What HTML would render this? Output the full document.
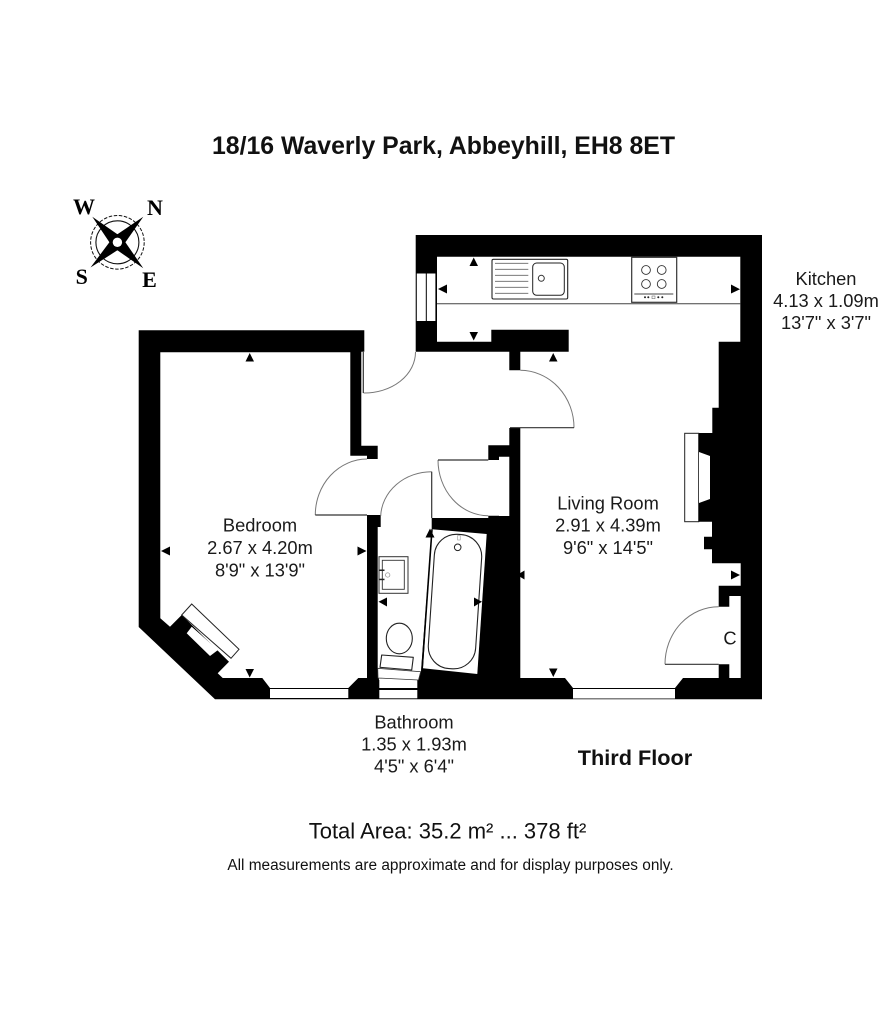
<!DOCTYPE html>
<html>
<head>
<meta charset="utf-8">
<style>
html,body{margin:0;padding:0;background:#fff;}
svg{display:block;}
text{font-family:"Liberation Sans",Arial,sans-serif;fill:#111;}
.l{font-size:18.3px;text-anchor:middle;fill:#1a1a1a;}
.c{font-family:"Liberation Serif",serif;font-weight:bold;font-size:22px;text-anchor:middle;fill:#000;}
</style>
</head>
<body>
<svg width="880" height="1024" viewBox="0 0 880 1024" xmlns="http://www.w3.org/2000/svg">
<rect width="880" height="1024" fill="#fff"/>

<!-- footprint -->
<polygon fill="#000" points="138.7,330.3 364.3,330.3 364.3,352 415.7,352 415.7,235 762,235 762,699.3 215,699.3 138.7,627"/>

<!-- bedroom -->
<polygon fill="#fff" points="160.3,352.3 350.3,352.3 350.3,455.7 367,455.7 367,678 358.3,678 348.3,688 270,688 262.3,678 222.7,678 217.7,673.3 229,661.7 181.7,615 170,626.7 160.3,618.3"/>
<!-- bedroom window -->
<rect x="270" y="689" width="78.3" height="9" fill="#fff"/>

<!-- kitchen / living / hall / bath -->
<polygon fill="#fff" points="437,256.7 740.3,256.7 740.3,341.7 718.7,341.7 718.7,407.7 712.3,407.7 712.3,433 698.7,433 698.7,521.7 712,521.7 712,536.7 704,536.7 704,549.3 712,549.3 712,563.3 740.7,563.3 740.7,585.7 718.7,585.7 718.7,606.7 729.3,606.7 729.3,596 740.7,596 740.7,678 729.3,678 729.3,664.3 718.7,664.3 718.7,678 683,678 675,688 573,688 565,678 520.3,678 520.3,428 509.3,428 509.3,445.3 488.3,445.3 488.3,460 499,460 499,456.7 509.3,456.7 509.3,516 499,516 499,515.7 488.3,515.7 488.3,518 431.7,518 431.7,529.3 421,671 417.3,680 379,680 377.7,668 377.7,527 380.7,527 380.7,515 367,515 367,459 377.7,459 377.7,445.7 361.3,445.7 361.3,351.7 509.3,351.7 509.3,370.3 520.3,370.3 520.3,351.7 568.7,351.7 568.7,329.7 491.3,329.7 491.3,341.7 437,341.7"/>
<!-- living window -->
<rect x="573" y="689" width="102" height="9.5" fill="#fff"/>
<!-- kitchen window -->
<rect x="416.8" y="273.5" width="9" height="47.5" fill="#fff"/>
<rect x="426.8" y="273.5" width="8.6" height="47.5" fill="#fff"/>
<!-- bathroom window -->
<rect x="379.3" y="680" width="38" height="8" fill="#fff"/>
<rect x="379.3" y="690" width="38" height="8.3" fill="#fff"/>
<polygon points="377.7,668.3 420.7,671.7 418.5,680 378,678" fill="#fff" stroke="#333" stroke-width="0.8"/>

<!-- fireplaces -->
<polygon points="191.7,604 239,649.3 231,658.3 181.7,615" fill="#fff" stroke="#222" stroke-width="1"/>
<polygon points="191.7,626.7 186.7,633.3 210,656 218,650" fill="#fff"/>
<rect x="684.7" y="433.3" width="14" height="88.4" fill="#fff" stroke="#222" stroke-width="1"/>
<polygon points="698.7,433.5 712.3,433.5 712.3,521.5 698.7,521.5" fill="#000"/>
<polygon points="699,452 710,456 710,499 699,503" fill="#fff"/>

<!-- doors -->
<g fill="none" stroke="#777" stroke-width="1">
<path d="M363.6,393 A51,41 0 0 0 415.5,352"/>
<path d="M520.3,370.3 A54,57.4 0 0 1 574,427.7"/>
<path d="M315.3,515 A52,56 0 0 1 367,459"/>
<path d="M380.7,516 A51,46 0 0 1 431.7,471.7"/>
<path d="M438,460 A50.3,55.7 0 0 0 488.3,515.7"/>
<path d="M665,664.3 A53.7,57.6 0 0 1 718.7,606.7"/>
</g>
<g stroke="#333" stroke-width="1.2" fill="none">
<line x1="363.3" y1="352" x2="363.3" y2="393"/>
<line x1="510" y1="427.7" x2="574" y2="427.7"/>
<line x1="315.3" y1="515" x2="367" y2="515"/>
<line x1="431.7" y1="471.7" x2="431.7" y2="518"/>
<line x1="438" y1="460" x2="488.3" y2="460"/>
<line x1="665" y1="664.3" x2="718.7" y2="664.3"/>
</g>

<!-- kitchen fittings -->
<line x1="437" y1="303.7" x2="740.3" y2="303.7" stroke="#444" stroke-width="1"/>
<rect x="492" y="259.3" width="75.7" height="39.7" rx="1.5" fill="#fff" stroke="#222" stroke-width="1.1"/>
<rect x="532.7" y="263" width="31.6" height="32.3" rx="4" fill="#fff" stroke="#222" stroke-width="1"/>
<circle cx="541.3" cy="278.3" r="3" fill="#fff" stroke="#333" stroke-width="1"/>
<g stroke="#666" stroke-width="0.8">
<line x1="495" y1="263.3" x2="528.3" y2="263.3"/>
<line x1="495" y1="269.3" x2="528.3" y2="269.3"/>
<line x1="495" y1="275.3" x2="528.3" y2="275.3"/>
<line x1="495" y1="281.3" x2="528.3" y2="281.3"/>
<line x1="495" y1="287.3" x2="528.3" y2="287.3"/>
<line x1="495" y1="293.3" x2="528.3" y2="293.3"/>
</g>
<rect x="631.7" y="257.3" width="45" height="45" fill="#fff" stroke="#333" stroke-width="1.2"/>
<g fill="#fff" stroke="#333" stroke-width="0.9">
<circle cx="646" cy="270" r="4.4"/><circle cx="661.7" cy="270" r="4.4"/>
<circle cx="646" cy="284" r="4.4"/><circle cx="661.7" cy="284" r="4.4"/>
</g>
<line x1="634.3" y1="294" x2="673.3" y2="294" stroke="#444" stroke-width="0.9"/>
<g fill="#222">
<circle cx="645" cy="297.3" r="1"/><circle cx="648.3" cy="297.3" r="1"/>
<circle cx="658.3" cy="297.3" r="1"/><circle cx="662.3" cy="297.3" r="1"/>
</g>
<rect x="652" y="296" width="3" height="2.6" fill="none" stroke="#555" stroke-width="0.5"/>

<!-- bath -->
<polygon points="432,529.3 486.7,534 477.3,674 423,668.3" fill="#fff"/>
<line x1="432" y1="529.3" x2="422" y2="670" stroke="#000" stroke-width="1.6"/>
<rect x="431.3" y="534.3" width="47.4" height="134.5" rx="22" fill="none" stroke="#222" stroke-width="1.1" transform="rotate(3.8 455 601.5)"/>
<circle cx="457.7" cy="547.3" r="3.3" fill="#fff" stroke="#222" stroke-width="1"/>
<rect x="457.6" y="535.5" width="2.6" height="4.5" fill="#fff" stroke="#888" stroke-width="0.5"/>

<!-- sink -->
<rect x="379" y="556.7" width="29" height="36.6" fill="#fff" stroke="#333" stroke-width="1"/>
<rect x="382.3" y="560.3" width="22" height="29" fill="#fff" stroke="#333" stroke-width="0.9"/>
<circle cx="387.7" cy="575" r="2.2" fill="#fff" stroke="#888" stroke-width="0.7"/>
<rect x="379.5" y="569.5" width="5" height="1.5" fill="#222"/>
<rect x="379.5" y="578.7" width="5" height="1.5" fill="#222"/>

<!-- toilet -->
<ellipse cx="399.3" cy="638.5" rx="13" ry="15.3" fill="#fff" stroke="#222" stroke-width="1.1"/>
<polygon points="381.7,655 413.3,657.3 411.7,670 380,667.3" fill="#fff" stroke="#222" stroke-width="1.1" stroke-linejoin="round"/>

<!-- arrows -->
<g fill="#000">
<polygon points="469.5,266 478,266 473.7,257.5"/>
<polygon points="447,284.5 447,293.5 438,289"/>
<polygon points="731,284.5 731,293.5 740,289.3"/>
<polygon points="469.5,332 478,332 473.7,340.5"/>
<polygon points="549,361.5 557.5,361.5 553.2,353"/>
<polygon points="245.5,361.5 254,361.5 249.7,353"/>
<polygon points="170,546.5 170,555.5 161,551"/>
<polygon points="357.5,546.5 357.5,555.5 366.5,551"/>
<polygon points="245.5,669 254,669 249.7,677.5"/>
<polygon points="425.5,537.5 434.5,537.5 430,528.5"/>
<polygon points="387,597.5 387,606.5 378.5,601.7"/>
<polygon points="474,597.5 474,606.5 482,601.7"/>
<polygon points="524.5,570.5 524.5,579.5 517,575"/>
<polygon points="549,668.5 557.5,668.5 553.3,677"/>
<polygon points="731,570.5 731,579.5 740,575"/>
</g>

<!-- compass -->
<g>
<circle cx="117.4" cy="242.3" r="21.5" fill="none" stroke="#111" stroke-width="1.1"/>
<circle cx="117.4" cy="242.3" r="26.8" fill="none" stroke="#111" stroke-width="1" stroke-dasharray="3.5 1.6"/>
<polygon fill="#000" points="92.3,216.7 117.4,234.3 143.3,216.7 125.4,242.3 143.3,268.3 117.4,250.3 90.5,267.5 109.4,242.3"/>
<circle cx="117.4" cy="242.3" r="8" fill="#000"/>
<circle cx="117.4" cy="242.3" r="4.7" fill="#fff"/>
</g>
<text class="c" x="84" y="214">W</text>
<text class="c" x="155" y="215">N</text>
<text class="c" x="81.7" y="284">S</text>
<text class="c" x="149.5" y="287">E</text>

<!-- labels -->
<text x="443.5" y="154" text-anchor="middle" font-size="24.7" font-weight="bold" fill="#111" textLength="463" lengthAdjust="spacingAndGlyphs">18/16 Waverly Park, Abbeyhill, EH8 8ET</text>

<text class="l" x="826" y="285">Kitchen</text>
<text class="l" x="826" y="307">4.13 x 1.09m</text>
<text class="l" x="826" y="329">13'7" x 3'7"</text>

<text class="l" x="260" y="531.7">Bedroom</text>
<text class="l" x="260" y="554">2.67 x 4.20m</text>
<text class="l" x="260" y="576.7">8'9" x 13'9"</text>

<text class="l" x="608" y="509.3">Living Room</text>
<text class="l" x="608" y="531.7">2.91 x 4.39m</text>
<text class="l" x="608" y="554">9'6" x 14'5"</text>

<text class="l" x="730" y="644.5">C</text>

<text class="l" x="414" y="728.3">Bathroom</text>
<text class="l" x="414" y="750.7">1.35 x 1.93m</text>
<text class="l" x="414" y="772.7">4'5" x 6'4"</text>

<text x="635" y="765" text-anchor="middle" font-size="21.7" font-weight="bold" fill="#111">Third Floor</text>
<text x="447.5" y="838.5" text-anchor="middle" font-size="22" fill="#111">Total Area: 35.2 m² ... 378 ft²</text>
<text x="450.5" y="870" text-anchor="middle" font-size="15.4" fill="#111">All measurements are approximate and for display purposes only.</text>
</svg>
</body>
</html>
